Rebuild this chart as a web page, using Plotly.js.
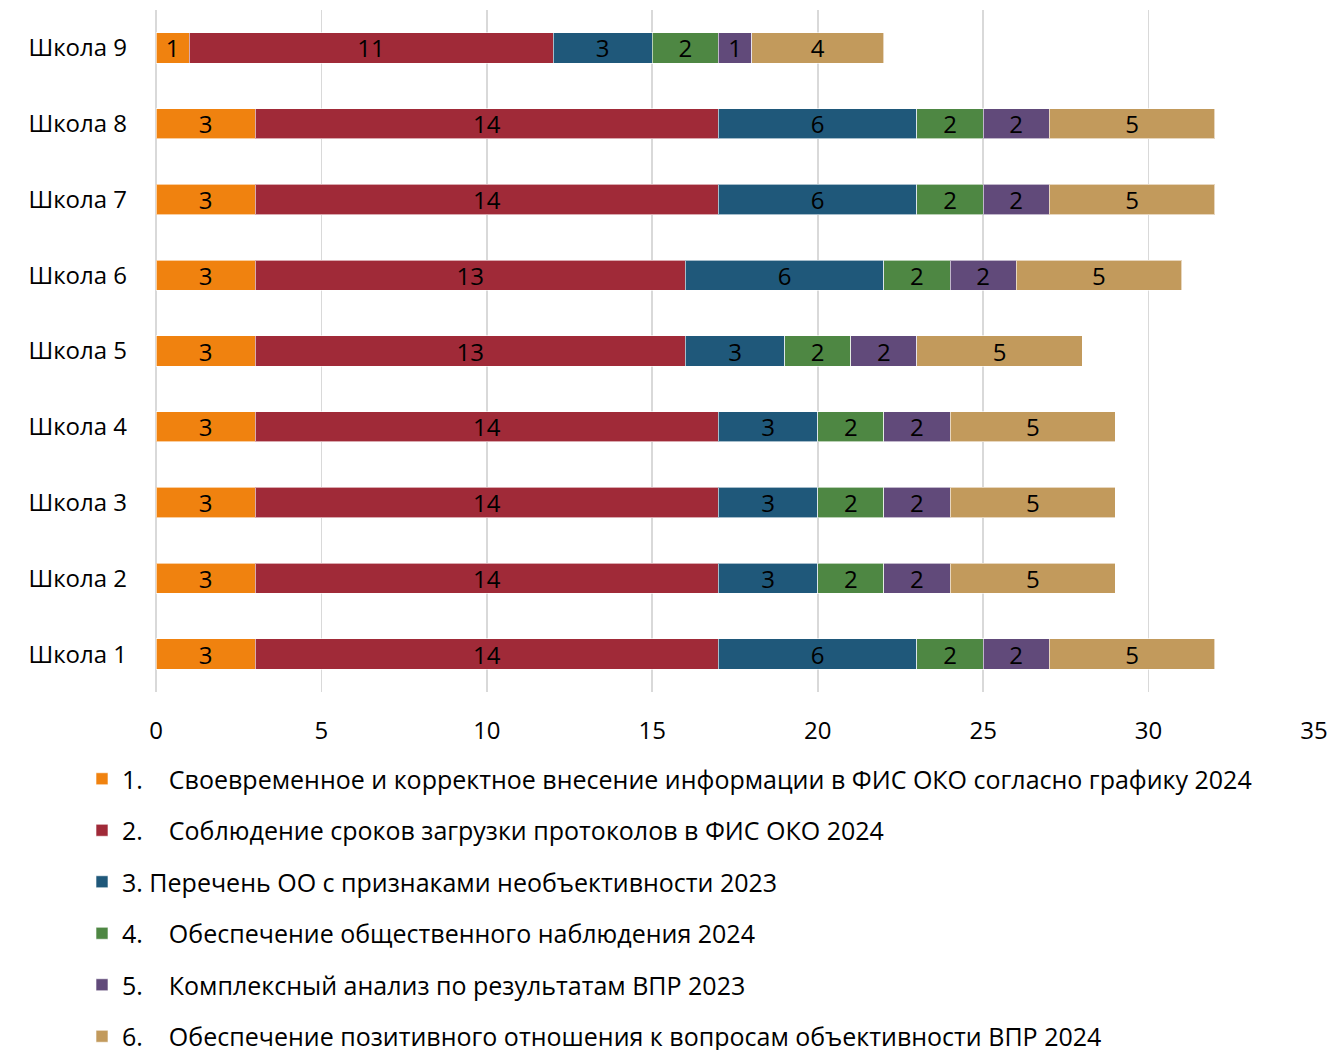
<!DOCTYPE html>
<html>
<head>
<meta charset="utf-8">
<script src="https://cdn.plot.ly/plotly-3.0.1.min.js"></script>
<style>html,body{margin:0;padding:0;background:#fff;}#chart{width:1331px;height:1050px;}</style>
</head>
<body>
<div id="chart"></div>
<script>
const schools = ['Школа 1','Школа 2','Школа 3','Школа 4','Школа 5','Школа 6','Школа 7','Школа 8','Школа 9'];
const s1 = [3,3,3,3,3,3,3,3,1];
const s2 = [14,14,14,14,13,13,14,14,11];
const s3 = [6,3,3,3,3,6,6,6,3];
const s4 = [2,2,2,2,2,2,2,2,2];
const s5 = [2,2,2,2,2,2,2,2,1];
const s6 = [5,5,5,5,5,5,5,5,4];
const gap = '\u00a0\u00a0\u00a0\u00a0';
const seriesNames = [
  '1.' + gap + 'Своевременное и корректное внесение информации в ФИС ОКО согласно графику 2024',
  '2.' + gap + 'Соблюдение сроков загрузки протоколов в ФИС ОКО 2024',
  '3. Перечень ОО с признаками необъективности 2023',
  '4.' + gap + 'Обеспечение общественного наблюдения 2024',
  '5.' + gap + 'Комплексный анализ по результатам ВПР 2023',
  '6.' + gap + 'Обеспечение позитивного отношения к вопросам объективности ВПР 2024'
];
const seriesValues = [s1,s2,s3,s4,s5,s6];
const colors = ['#F0820F','#A02A38','#1F587A','#4E8743','#614A7A','#C29A5C'];
const FONT = 'Open Sans, Liberation Sans, sans-serif';

const traces = seriesValues.map((vals,i)=>({
  type:'bar', orientation:'h', name:seriesNames[i], legendgroup:'g'+i,
  y:schools, x:vals, text:vals.map(String),
  textposition:'inside', insidetextanchor:'middle', constraintext:'none', textangle:0,
  textfont:{family:FONT,size:24,color:'#000'},
  marker:{color:colors[i], line:{color:'rgba(255,255,255,0.6)', width:1}},
  hoverinfo:'x+name'
}));

const layout = {
  width:1331, height:1050,
  margin:{l:156, r:17, t:10, b:358, autoexpand:false},
  barmode:'stack', bargap:0.6,
  paper_bgcolor:'#fff', plot_bgcolor:'#fff',
  font:{family:FONT, size:24, color:'#000'},
  xaxis:{range:[0,35], dtick:5, tick0:0, showgrid:true, gridcolor:'#d9d9d9', gridwidth:1.6,
         zeroline:true, zerolinecolor:'#d9d9d9', zerolinewidth:1.6, showline:false, automargin:false,
         ticks:'', tickangle:0, ticklabelstandoff:22, tickfont:{family:FONT,size:24,color:'#000'}, fixedrange:true},
  yaxis:{type:'category', showgrid:false, zeroline:false, showline:false, ticks:'', automargin:false,
         ticklabelstandoff:28, tickfont:{family:FONT,size:24,color:'#000'}, fixedrange:true},
  showlegend:true,
  legend:{orientation:'v', xref:'container', yref:'container', x:82/1331, y:1-756/1050,
          xanchor:'left', yanchor:'top', traceorder:'grouped', tracegroupgap:16,
          font:{family:FONT,size:25,color:'#000'}, itemwidth:30, bgcolor:'rgba(0,0,0,0)'}
};
Plotly.newPlot('chart', traces, layout, {displayModeBar:false, staticPlot:true});
</script>
</body>
</html>
